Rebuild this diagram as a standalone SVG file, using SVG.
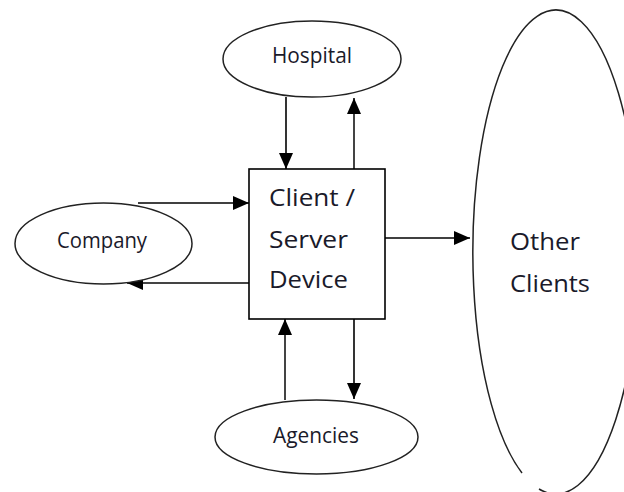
<svg xmlns="http://www.w3.org/2000/svg" width="624" height="492" viewBox="0 0 624 492">
<style>
.shape{fill:#fff;stroke:#222;stroke-width:1.5}
.box{fill:#fff;stroke:#000;stroke-width:1.6}
.lbl{font-family:"Open Sans","Noto Sans",sans-serif;fill:#1a1a2a}
.small{font-size:21px}
.big{font-size:23px}
.conn{stroke:#000;stroke-width:1.6;fill:none;marker-end:url(#ah)}
.conn.g{stroke:#444;stroke-width:2}
</style>
<defs>
<marker id="ah" markerUnits="userSpaceOnUse" markerWidth="16" markerHeight="14" refX="16" refY="7" orient="auto">
<path d="M0,0 L16,7 L0,14 z" fill="#000"/>
</marker>
</defs>
<rect width="624" height="492" fill="#fff"/>
<g id="connectors">
<path class="conn" d="M286,97 L286,169"/>
<path class="conn g" d="M354,169 L354,98"/>
<path class="conn" d="M138,203 L249,203"/>
<path class="conn g" d="M249,283 L127,283"/>
<path class="conn g" d="M285,400 L285,319"/>
<path class="conn" d="M354,319 L354,399"/>
<path class="conn" d="M385,238 L470,238"/>
</g>
<g id="hospital">
<ellipse class="shape" cx="312" cy="59" rx="89" ry="38"/>
<text class="lbl small" x="272" y="63" textLength="80" lengthAdjust="spacingAndGlyphs">Hospital</text>
</g>
<g id="company">
<ellipse class="shape" cx="103.5" cy="243.5" rx="88.5" ry="40.5"/>
<text class="lbl small" x="57" y="248" textLength="90" lengthAdjust="spacingAndGlyphs">Company</text>
</g>
<g id="agencies">
<ellipse class="shape" cx="316.5" cy="437" rx="101.5" ry="37"/>
<text class="lbl small" x="273" y="443" textLength="86" lengthAdjust="spacingAndGlyphs">Agencies</text>
</g>
<g id="device">
<rect class="box" x="249" y="169" width="136" height="150"/>
<text class="lbl big" x="269" y="206" textLength="86" lengthAdjust="spacingAndGlyphs">Client /</text>
<text class="lbl big" x="269" y="248" textLength="79" lengthAdjust="spacingAndGlyphs">Server</text>
<text class="lbl big" x="269" y="288" textLength="79" lengthAdjust="spacingAndGlyphs">Device</text>
</g>
<g id="other-clients">
<path class="shape" d="M522,473 A83,242 0 1 1 539,489"/>
<text class="lbl big" x="510" y="250" textLength="70" lengthAdjust="spacingAndGlyphs">Other</text>
<text class="lbl big" x="510" y="292" textLength="80" lengthAdjust="spacingAndGlyphs">Clients</text>
</g>
</svg>
